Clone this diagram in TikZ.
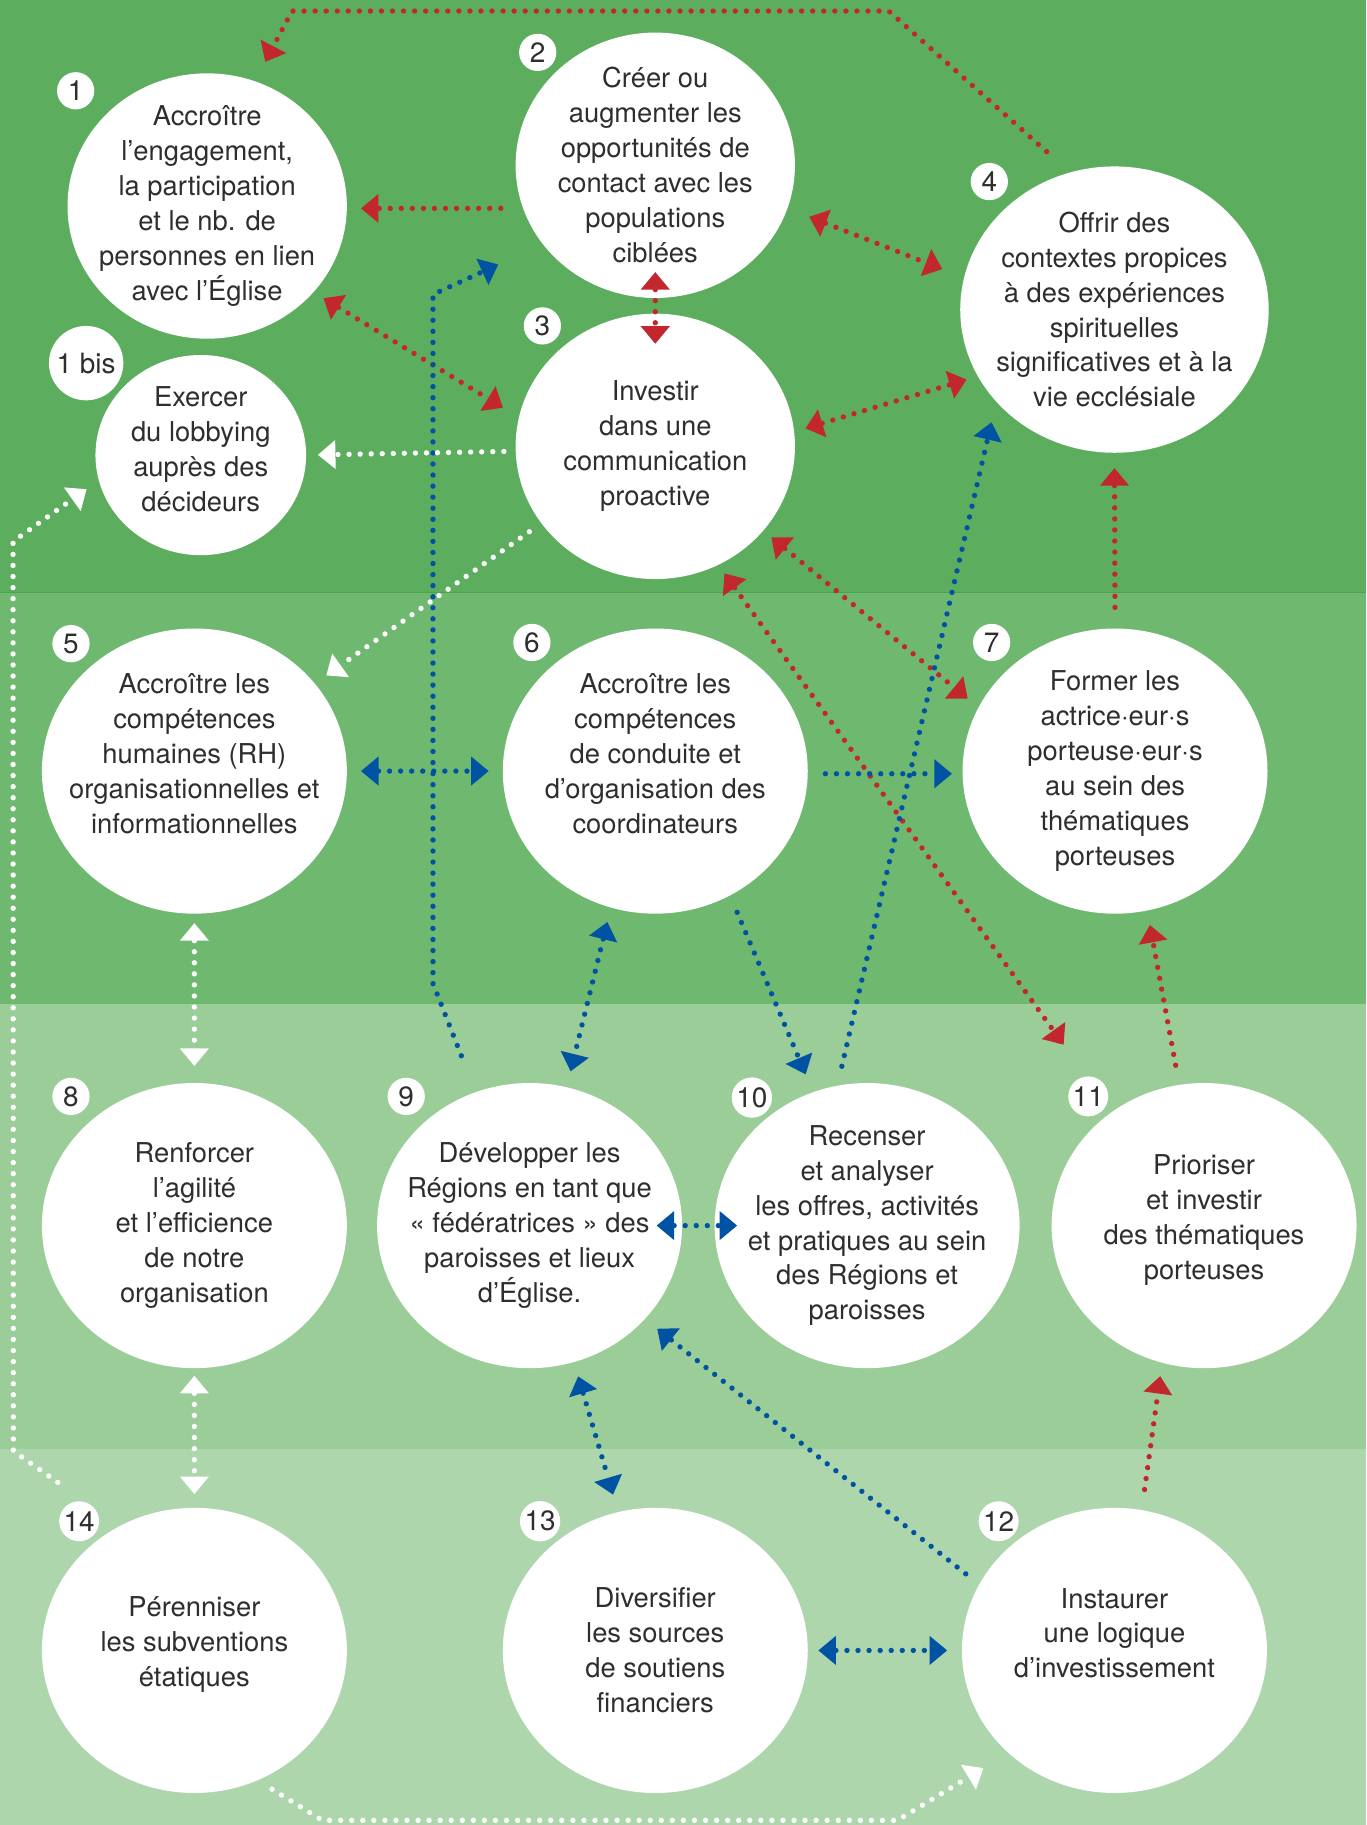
\documentclass[tikz,border=0pt]{standalone}
\usepackage{fontspec}
\setmainfont{TeX Gyre Heros}
\usetikzlibrary{arrows.meta,shapes.geometric}

\definecolor{bandtop}{HTML}{5CAE5E}
\definecolor{bandline}{HTML}{4AA34D}
\definecolor{bandmid}{HTML}{6FB86F}
\definecolor{bandlow}{HTML}{9BCD98}
\definecolor{bandbot}{HTML}{ADD6AD}
\definecolor{linkred}{HTML}{C1272D}
\definecolor{linkblue}{HTML}{0052A3}
\definecolor{inktext}{HTML}{2E2E2E}

\begin{document}
\begin{tikzpicture}[
  x=1pt, y=-1pt,
  goal/.style={ellipse, fill=white, inner sep=-25pt, minimum width=262pt,
    minimum height=245pt, align=center, text=inktext,
    font=\fontsize{23.5}{30}\selectfont},
  goalsmall/.style={goal, minimum width=240pt, minimum height=228pt},
  badge/.style={circle, fill=white, inner sep=1pt, minimum size=32pt,
    text=inktext, font=\fontsize{24}{24}\selectfont},
  link/.style={line width=4.6pt, dash pattern=on 0pt off 9.5pt, line cap=round},
  redlink/.style={link, draw=linkred},
  bluelink/.style={link, draw=linkblue},
  whitelink/.style={link, draw=white},
  >={Triangle[length=15pt,width=25pt,line width=0pt]}
]
\useasboundingbox (0,0) rectangle (1174,1568);

% bands
\fill[bandtop] (0,0) rectangle (1174,509);
\fill[bandmid] (0,509) rectangle (1174,863);
\fill[bandlow] (0,863) rectangle (1174,1245);
\fill[bandbot] (0,1245) rectangle (1174,1568);
\draw[bandline, line width=1.5pt] (0,509) -- (1174,509);

% goals
\node[goalsmall] (c1) at (178,177) {Accroître\\l’engagement,\\la participation\\et le nb. de\\personnes en lien\\avec l’Église};
\node[goalsmall] (c2) at (563,142) {Créer ou\\augmenter les\\opportunités de\\contact avec les\\populations\\ciblées};
\node[goalsmall] (c3) at (563,383.5) {Investir\\dans une\\communication\\proactive};
\node[goal, minimum width=265pt, minimum height=246pt] (c4) at (957.5,266) {Offrir des\\contextes propices\\à des expériences\\spirituelles\\significatives et à la\\vie ecclésiale};
\node[goal, minimum width=181pt, minimum height=172pt] (cbis) at (172.5,391) {Exercer\\du lobbying\\auprès des\\décideurs\\[-20pt]\mbox{}};
\node[goal] (c5) at (167,662.5) {Accroître les\\compétences\\humaines (RH)\\organisationnelles et\\informationnelles\\\mbox{}};
\node[goal] (c6) at (563,662.5) {Accroître les\\compétences\\de conduite et\\d’organisation des\\coordinateurs\\\mbox{}};
\node[goal] (c7) at (958,662.5) {Former les\\actrice·eur·s\\porteuse·eur·s\\au sein des\\thématiques\\porteuses};
\node[goal] (c8) at (167,1053) {Renforcer\\l’agilité\\et l’efficience\\de notre\\organisation};
\node[goal] (c9) at (455,1053) {Développer les\\Régions en tant que\\«~fédératrices~» des\\paroisses et lieux\\d’Église.};
\node[goal] (c10) at (745,1053) {Recenser\\et analyser\\les offres, activités\\et pratiques au sein\\des Régions et\\paroisses};
\node[goal] (c11) at (1034.5,1053) {Prioriser\\et investir\\des thématiques\\porteuses\\[-15pt]\mbox{}};
\node[goal] (c14) at (167,1418) {Pérenniser\\les subventions\\étatiques\\[-15pt]\mbox{}};
\node[goal] (c13) at (563,1418) {Diversifier\\les sources\\de soutiens\\financiers};
\node[goal] (c12) at (957.5,1418) {Instaurer\\une logique\\d’investissement\\\mbox{}};

% numbers
\node[badge] (b1) at (65,78) {1};
\node[badge] (b2) at (462,45) {2};
\node[badge] (b3) at (466,280) {3};
\node[badge] (b4) at (850,156) {4};
\node[badge, inner sep=4pt] (bbis) at (74,312) {1 bis};
\node[badge] (b5) at (61,553) {5};
\node[badge] (b6) at (457,552) {6};
\node[badge] (b7) at (852,552) {7};
\node[badge] (b8) at (61,942) {8};
\node[badge] (b9) at (349,942) {9};
\node[badge] (b10) at (646,943) {10};
\node[badge] (b11) at (935,942) {11};
\node[badge] (b14) at (68,1307) {14};
\node[badge] (b13) at (464,1307) {13};
\node[badge] (b12) at (858,1307) {12};

% red links
\draw[redlink, ->, shorten <=26.7pt, shorten >=18.8pt] (c4.108) -- (763.6,9.5) -- (250.8,9.5) -- (c1.69);
\draw[redlink, ->, shorten <=19pt, shorten >=12pt] (c2.198) -- (c1.-1);
\draw[redlink, <->, shorten <=-22.4pt, shorten >=-26pt] (c2.south) -- (c3.north);
\draw[redlink, <->, shorten <=10pt, shorten >=16pt] (c1.-39) -- (c3.168);
\draw[redlink, <->, shorten <=20pt, shorten >=20pt] (c2.-18) -- (c4.168);
\draw[redlink, <->, shorten <=10pt, shorten >=10pt] (c3.6) -- (c4.206);
\draw[redlink, ->, shorten <=18pt, shorten >=13pt] (c7.north) -- (c4.south);
\draw[redlink, <->, shorten <=9pt, shorten >=12pt] (c3.-38) -- (c7.155);
\draw[redlink, <->, shorten <=9pt, shorten >=71pt] (c3.-62) -- (c11.129);
\draw[redlink, ->, shorten <=17pt, shorten >=12.5pt] (c11.100) -- (c7.-77);
\draw[redlink, ->, shorten <=17.7pt, shorten >=11.5pt] (c12.79) -- (c11.-107);

% blue links
\draw[bluelink, ->, shorten <=33.5pt, shorten >=42pt] (c9.112) -- (372,845) -- (372,253) -- (c2.215);
\draw[bluelink, <->, shorten <=12pt, shorten >=12pt] (c5.east) -- (c6.west);
\draw[bluelink, ->, shorten <=15pt, shorten >=9pt] (c6.-1) -- (c7.181);
\draw[bluelink, <->, shorten <=12.7pt, shorten >=14pt] (c6.252) -- (c9.75);
\draw[bluelink, ->, shorten <=15.6pt, shorten >=16.5pt] (c6.-59) -- (c10.112);
\draw[bluelink, ->, shorten <=17pt, shorten >=18pt] (c10.102) -- (c4.218);
\draw[bluelink, <->, shorten <=-22pt, shorten >=-19.5pt] (c9.east) -- (c10.west);
\draw[bluelink, <->, shorten <=12.7pt, shorten >=15.5pt] (c9.-72) -- (c13.105);
\draw[bluelink, ->, shorten <=14.6pt, shorten >=13.4pt] (c12.154) -- (c9.-39);
\draw[bluelink, <->, shorten <=9pt, shorten >=12.6pt] (c13.east) -- (c12.west);

% white links
\draw[whitelink, ->, shorten <=10pt, shorten >=10pt] (c3.182) -- (cbis.east);
\draw[whitelink, ->, shorten <=12.5pt, shorten >=12pt] (c3.214) -- (c5.36);
\draw[whitelink, <->, shorten <=8pt, shorten >=14.5pt] (c5.south) -- (c8.north);
\draw[whitelink, <->, shorten <=6.4pt, shorten >=11.7pt] (c8.south) -- (c14.north);
\draw[whitelink, ->, shorten <=65pt, shorten >=12.8pt] (c14.121) -- (11.5,1246.7) -- (11.2,465.2) -- (cbis.194);
\draw[whitelink, ->, shorten <=14.5pt, shorten >=25pt] (c14.-64) -- (277,1564) -- (771,1564) -- (c12.224);
\end{tikzpicture}
\end{document}
